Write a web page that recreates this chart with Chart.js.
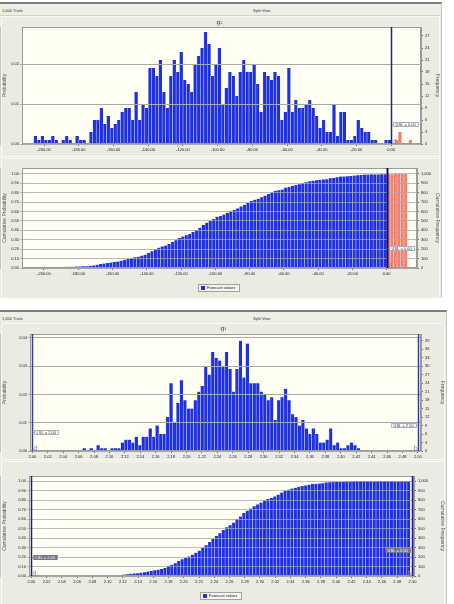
<!DOCTYPE html>
<html>
<head>
<meta charset="utf-8">
<script src="https://cdn.jsdelivr.net/npm/chart.js@4.4.0/dist/chart.umd.min.js"></script>
<style>
  body { margin: 0; width: 454px; height: 604px; background: #fff; position: relative; overflow: hidden;
         font-family: "Liberation Sans", Arial, sans-serif; }
  .sec { position: absolute; left: 0; background: #ecebe1; border-top: 2px solid #7c7c7c; box-sizing: border-box;
         border-right: 1px solid #c9c8be; }
  .hdr { position: absolute; left: 0; right: 0; top: 0; height: 11px; border-bottom: 1px solid #d4d2c6;
         background: #efeee6; font-size: 4px; color: #333; }
  .hdr span { position: absolute; top: 4px; }
  .panel { position: absolute; left: 1px; right: 1px; border: 1px solid #f9f8f3; box-sizing: border-box; }
  canvas { position: absolute; left: 0; }
</style>
</head>
<body>
<div class="sec" style="top:2px;width:442px;height:296px">
  <div class="hdr"><span style="left:2px">1,000 Trials</span><span style="left:253px">Split View</span></div>
  <div class="panel" style="top:12px;height:141px"></div>
  <div class="panel" style="top:154px;height:142px"></div>
</div>
<div class="sec" style="top:310px;width:447px;height:294px">
  <div class="hdr"><span style="left:2px">1,000 Trials</span><span style="left:253px">Split View</span></div>
  <div class="panel" style="top:11px;height:137px"></div>
  <div class="panel" style="top:149px;height:145px"></div>
</div>
<canvas id="hist1" width="442" height="140" style="top:15px"></canvas>
<canvas id="cum1" width="442" height="141" style="top:157px"></canvas>
<canvas id="hist2" width="447" height="136" style="top:322px"></canvas>
<canvas id="cum2" width="447" height="144" style="top:460px"></canvas>
<script>
// ---- data ----
const trials = 1000;

// forecast g2: bins of width 2 starting at -206
const hist1Start = -206;
const hist1Width = 2;
const hist1Freq = [
  2, 1, 2, 1, 1, 2, 1, 0, 1, 2, 1, 0, 2, 1, 1, 0,
  3, 6, 6, 9, 5, 7, 4, 5, 6, 8, 9, 9, 6, 13, 6, 10, 9,
  19, 19, 17, 21, 13, 9, 17, 21, 18, 23, 16, 15, 13, 20, 22, 24, 28, 25, 17, 20, 24,
  10, 14, 18, 17, 12, 18, 21, 18, 18, 20, 15, 8, 18, 17, 16, 18, 17,
  6, 8, 19, 8, 11, 9, 9, 10, 11, 9, 7, 4, 6, 3, 3, 10, 2, 8, 8, 1, 1, 2, 6, 4, 3, 3, 1, 1, 0, 0, 1, 1
];
const hist1Out = [0, 1, 3, 0, 0, 1];          // bins above USL = 0.00
const hist1Ticks = [-200, -180, -160, -140, -120, -100, -80, -60, -40, -20, 0];
const hist1ProbTicks = [0, 0.01, 0.02];
const hist1FreqTicks = [0, 3, 6, 9, 12, 15, 18, 21, 24, 27];

// forecast g1: bins of width 0.0045 starting at 2.065
const hist2Start = 2.065;
const hist2Width = 0.0045;
const hist2Freq = [
  1, 0, 1, 0, 2, 1, 1, 0, 1, 1, 1,
  3, 4, 4, 3, 5, 2, 5, 5, 8, 5, 9, 6, 6,
  12, 24, 10, 17, 25, 18, 15, 15, 18, 21, 23, 30, 27, 35, 33, 32, 30, 35, 29, 21, 29, 39, 26, 38,
  24, 24, 24, 21, 20, 18, 19, 11, 18, 19, 22, 18, 13, 12, 9, 11, 8, 6, 8, 6,
  3, 3, 4, 8, 2, 3, 1, 1, 2, 3, 2, 1,
  0, 0, 0, 0, 0, 0, 0, 0, 0, 0, 0, 0, 0, 0, 0, 0
];
const hist2Ticks = [2.00, 2.02, 2.04, 2.06, 2.08, 2.10, 2.12, 2.14, 2.16, 2.18, 2.20, 2.22, 2.24,
                    2.26, 2.28, 2.30, 2.32, 2.34, 2.36, 2.38, 2.40, 2.42, 2.44, 2.46, 2.48, 2.50];
const hist2ProbTicks = [0, 0.01, 0.02, 0.03, 0.04];
const hist2FreqTicks = [0, 3, 6, 9, 12, 15, 18, 21, 24, 27, 30, 33, 36, 39];

const cumProbTicks = [0, 0.1, 0.2, 0.3, 0.4, 0.5, 0.6, 0.7, 0.8, 0.9, 1.0];
const cumFreqTicks = [0, 100, 200, 300, 400, 500, 600, 700, 800, 900, 1000];

const BLUE = '#1f30e0';
const RED = '#f2806f';
Chart.defaults.font.family = '"Liberation Sans", Arial, sans-serif';
Chart.defaults.color = '#222';

// bin centres for the bars
function toPoints(start, width, values, offset) {
  return values.map((v, i) => ({ x: start + width * (offset + i + 0.5), y: v }));
}
function runningShare(values) {
  const total = values.reduce((s, v) => s + v, 0);
  let acc = 0;
  return values.map(v => { acc += v; return acc / total; });
}

const decor = {
  id: 'cb',
  beforeDraw(chart) {
    const { ctx, chartArea: a } = chart;
    ctx.save();
    ctx.fillStyle = '#fffff3';
    ctx.fillRect(a.left, a.top, a.right - a.left, a.bottom - a.top);
    ctx.restore();
  },
  afterDraw(chart, args, o) {
    const { ctx, chartArea: a, scales } = chart;
    const x = scales.x;
    ctx.save();
    ctx.strokeStyle = '#9c9c9c';
    ctx.lineWidth = 1;
    ctx.strokeRect(a.left + 0.5, a.top + 0.5, a.right - a.left - 1, a.bottom - a.top - 1);

    if (o.title) {
      ctx.fillStyle = '#333';
      ctx.font = '6px "DejaVu Serif", serif';
      ctx.textAlign = 'center';
      ctx.textBaseline = 'middle';
      ctx.fillText(o.title, (a.left + a.right) / 2 - 2, a.top - o.titleGap);
    }

    (o.specs || []).forEach(sp => {
      const px = Math.round(x.getPixelForValue(sp.value)) + 0.5;
      ctx.strokeStyle = sp.color;
      ctx.lineWidth = sp.width || 1.5;
      ctx.beginPath();
      ctx.moveTo(px, a.top);
      ctx.lineTo(px, a.bottom);
      ctx.stroke();
      // handle
      ctx.strokeStyle = '#888';
      ctx.lineWidth = 0.7;
      ctx.beginPath();
      const hx = sp.side === 'right' ? px + 1 : px - 1;
      const d = sp.side === 'right' ? 3 : -3;
      ctx.moveTo(hx + d, a.bottom - 5);
      ctx.lineTo(hx, a.bottom - 2.5);
      ctx.lineTo(hx + d, a.bottom);
      ctx.closePath();
      ctx.stroke();
      // label
      const txt = sp.name + ' = ' + sp.value.toFixed(2);
      ctx.font = '4px "Liberation Sans", Arial, sans-serif';
      const w = Math.ceil(ctx.measureText(txt).width) + 4;
      const h = 5;
      const cy = scales[sp.axis].getPixelForValue(sp.at);
      const bx = sp.side === 'right' ? px + 2 : px - 2 - w;
      const by = Math.round(cy - h / 2);
      ctx.fillStyle = sp.fill;
      ctx.fillRect(bx, by, w, h);
      ctx.strokeStyle = '#7a7a90';
      ctx.lineWidth = 0.6;
      ctx.strokeRect(bx + 0.3, by + 0.3, w - 0.6, h - 0.6);
      ctx.beginPath();
      ctx.moveTo(sp.side === 'right' ? px : px - 2, by + h / 2);
      ctx.lineTo(sp.side === 'right' ? px + 2 : px, by + h / 2);
      ctx.stroke();
      ctx.fillStyle = sp.text;
      ctx.textAlign = 'left';
      ctx.textBaseline = 'middle';
      ctx.fillText(txt, bx + 2, by + h / 2 + 0.3);
    });

    if (o.legend) {
      ctx.font = '4px "Liberation Sans", Arial, sans-serif';
      const t = 'Forecast values';
      const w = Math.ceil(ctx.measureText(t).width) + 13;
      const h = 8;
      const lx = Math.round((a.left + a.right) / 2 - 1 - w / 2);
      const ly = Math.round(a.bottom + 16);
      ctx.fillStyle = '#f5f4ee';
      ctx.fillRect(lx, ly, w, h);
      ctx.strokeStyle = '#a2a2a2';
      ctx.lineWidth = 1;
      ctx.strokeRect(lx + 0.5, ly + 0.5, w - 1, h - 1);
      ctx.fillStyle = BLUE;
      ctx.fillRect(lx + 3, ly + 2, 4, 4);
      ctx.fillStyle = '#222';
      ctx.textAlign = 'left';
      ctx.textBaseline = 'middle';
      ctx.fillText(t, lx + 9, ly + h / 2);
    }
    ctx.restore();
  }
};

function barSet(points, color, edge, axis) {
  return {
    data: points, yAxisID: axis, grouped: false,
    backgroundColor: color, borderColor: edge,
    borderWidth: { left: 0.7, right: 0, top: 0, bottom: 0 }, borderSkipped: false,
    barPercentage: 1, categoryPercentage: 1
  };
}

function build(id, o) {
  const tickFont = { size: 4 };
  return new Chart(document.getElementById(id), {
    type: 'bar',
    data: { datasets: o.datasets },
    options: {
      responsive: false,
      animation: false,
      layout: { padding: { top: o.padTop, left: 0, right: 0, bottom: 0 } },
      plugins: { legend: { display: false }, tooltip: { enabled: false }, cb: o.decor },
      scales: {
        x: {
          type: 'linear', min: o.xMin, max: o.xMax, offset: false,
          grid: { display: true, drawOnChartArea: false, offset: false, tickLength: 2, color: '#666' },
          border: { color: '#9c9c9c' },
          ticks: { font: tickFont, padding: 1, maxRotation: 0, minRotation: 0, autoSkip: false,
                   callback: v => v.toFixed(2) },
          afterBuildTicks: s => { s.ticks = o.xTicks.map(v => ({ value: v })); },
          afterFit: s => { s.height = o.bottomH; }
        },
        yL: {
          position: 'left', min: 0, max: o.lMax,
          grid: { color: o.gridColor, z: 1, tickLength: 2 },
          border: { color: '#9c9c9c' },
          ticks: { font: tickFont, padding: 1, callback: v => v.toFixed(2) },
          title: { display: true, text: o.lTitle, font: { size: 5 }, color: '#555', padding: { top: 2, bottom: 0 } },
          afterBuildTicks: s => { s.ticks = o.lTicks.map(v => ({ value: v })); },
          afterFit: s => { s.width = o.leftW; }
        },
        yR: {
          position: 'right', min: 0, max: o.rMax,
          grid: { drawOnChartArea: false, tickLength: 2, color: '#666' },
          border: { color: '#9c9c9c' },
          ticks: { font: tickFont, padding: 2, callback: v => v.toLocaleString('en-US') },
          title: { display: true, text: o.rTitle, font: { size: 5 }, color: '#555', padding: { top: 2, bottom: 0 } },
          afterBuildTicks: s => { s.ticks = o.rTicks.map(v => ({ value: v })); },
          afterFit: s => { s.width = o.rightW; }
        }
      }
    },
    plugins: [decor]
  });
}

// ---- chart 1: histogram of g2 ----
const h1Max = 29.25;
build('hist1', {
  datasets: [
    barSet(toPoints(hist1Start, hist1Width, hist1Freq, 0), BLUE, 'rgba(185,195,255,0.75)', 'yR'),
    barSet(toPoints(hist1Start, hist1Width, hist1Out, hist1Freq.length), RED, 'rgba(255,210,200,0.8)', 'yR')
  ],
  padTop: 12, bottomH: 11, leftW: 22, rightW: 21,
  xMin: -212.7, xMax: 17.2, xTicks: hist1Ticks,
  lMax: h1Max / trials, lTicks: hist1ProbTicks, lTitle: 'Probability', gridColor: '#aaaaaa',
  rMax: h1Max, rTicks: hist1FreqTicks, rTitle: 'Frequency',
  decor: { title: 'g₂', titleGap: 5,
           specs: [{ name: 'USL', value: 0, side: 'right', axis: 'yR', at: 4.8, color: '#23238a',
                     fill: '#ffffff', text: '#333' }] }
});

// ---- chart 2: cumulative of g2 ----
const c1 = runningShare(hist1Freq.concat(hist1Out));
build('cum1', {
  datasets: [
    barSet(toPoints(hist1Start, hist1Width, c1.slice(0, hist1Freq.length), 0), BLUE, 'rgba(185,195,255,0.75)', 'yL'),
    barSet(toPoints(hist1Start, hist1Width, c1.slice(hist1Freq.length), hist1Freq.length), RED, 'rgba(255,210,200,0.8)', 'yL')
  ],
  padTop: 11, bottomH: 30, leftW: 22, rightW: 25,
  xMin: -212.8, xMax: 17.7, xTicks: hist1Ticks,
  lMax: 1.061, lTicks: cumProbTicks, lTitle: 'Cumulative Probability', gridColor: 'rgba(165,165,175,0.75)',
  rMax: 1061, rTicks: cumFreqTicks, rTitle: 'Cumulative Frequency',
  decor: { legend: true,
           specs: [{ name: 'USL', value: 0, side: 'right', axis: 'yL', at: 0.207, color: '#101060', width: 2,
                     fill: '#ffffff', text: '#333' }] }
});

// ---- chart 3: histogram of g1 ----
const h2Max = 41.4;
build('hist2', {
  datasets: [barSet(toPoints(hist2Start, hist2Width, hist2Freq, 0), BLUE, 'rgba(185,195,255,0.75)', 'yR')],
  padTop: 12, bottomH: 7, leftW: 30, rightW: 26,
  xMin: 1.997, xMax: 2.504, xTicks: hist2Ticks,
  lMax: h2Max / trials, lTicks: hist2ProbTicks, lTitle: 'Probability', gridColor: '#aaaaaa',
  rMax: h2Max, rTicks: hist2FreqTicks, rTitle: 'Frequency',
  decor: { title: 'g₁', titleGap: 6,
           specs: [
             { name: 'LSL', value: 2.00, side: 'right', axis: 'yR', at: 6.7, color: '#3a3aa6', fill: '#ffffff', text: '#333' },
             { name: 'USL', value: 2.50, side: 'left', axis: 'yR', at: 9.1, color: '#3a3aa6', fill: '#ffffff', text: '#333' }
           ] }
});

// ---- chart 4: cumulative of g1 ----
build('cum2', {
  datasets: [barSet(toPoints(hist2Start, hist2Width, runningShare(hist2Freq), 0), BLUE, 'rgba(185,195,255,0.75)', 'yL')],
  padTop: 16, bottomH: 28, leftW: 29, rightW: 33,
  xMin: 1.997, xMax: 2.502, xTicks: hist2Ticks,
  lMax: 1.053, lTicks: cumProbTicks, lTitle: 'Cumulative Probability', gridColor: 'rgba(165,165,175,0.75)',
  rMax: 1053, rTicks: cumFreqTicks, rTitle: 'Cumulative Frequency',
  decor: { legend: true,
           specs: [
             { name: 'LSL', value: 2.00, side: 'right', axis: 'yL', at: 0.20, color: '#1c1c90', fill: '#74748a', text: '#ffffff' },
             { name: 'USL', value: 2.50, side: 'left', axis: 'yL', at: 0.27, color: '#1c1c90', fill: '#74748a', text: '#ffffff' }
           ] }
});
</script>
</body>
</html>
